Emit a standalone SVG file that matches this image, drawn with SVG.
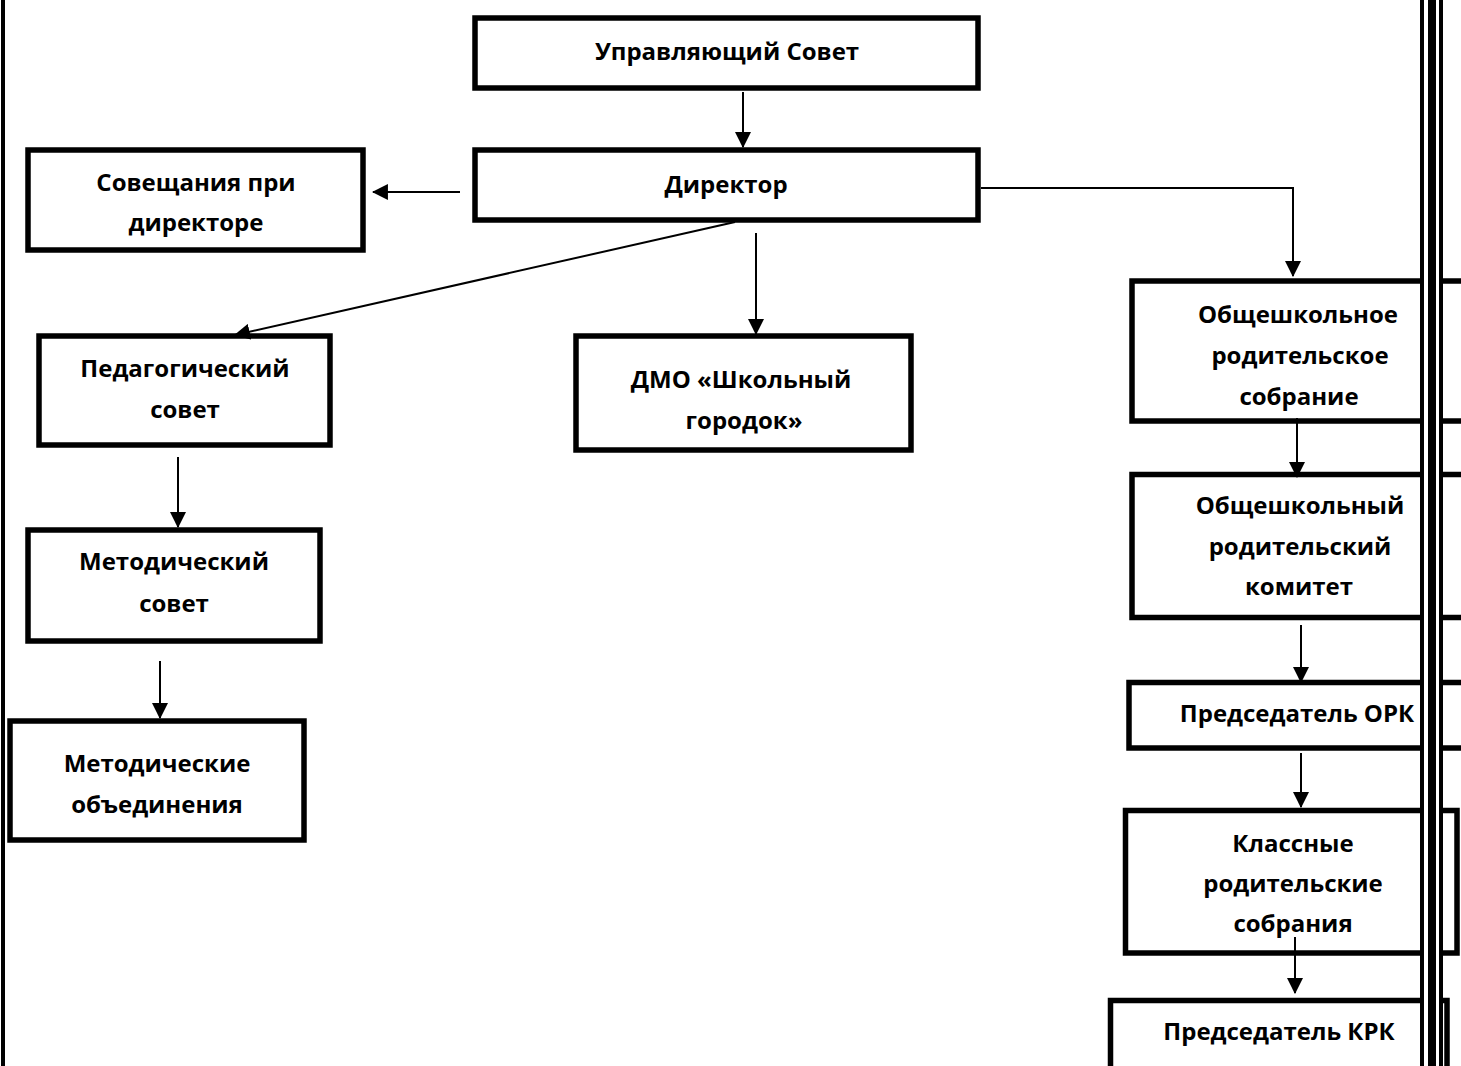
<svg xmlns="http://www.w3.org/2000/svg" width="1461" height="1066" viewBox="0 0 1461 1066">
<defs>
<style>
.box{fill:#fff;stroke:#000;stroke-width:5.5}
.t{font-family:"Open Sans","Liberation Sans",sans-serif;font-weight:bold;font-size:24px;fill:#000;text-anchor:middle}
.c{fill:none;stroke:#000;stroke-width:2}
</style>
<marker id="ah" markerUnits="userSpaceOnUse" markerWidth="16" markerHeight="16" viewBox="0 0 15 15" refX="14" refY="7.5" orient="auto">
<path d="M0,0 L15,7.5 L0,15 z" fill="#000"/>
</marker>
</defs>
<rect width="1461" height="1066" fill="#fff"/>
<rect x="1" y="0" width="4" height="1066" fill="#000"/>

<g id="upr-sovet"><rect class="box" x="475" y="18" width="503" height="70"/><text class="t" x="727" y="60">Управляющий Совет</text></g>
<g id="direktor"><rect class="box" x="475" y="150" width="503" height="70"/><text class="t" x="726" y="193">Директор</text></g>
<g id="soveshchaniya"><rect class="box" x="28" y="150" width="335" height="100"/><text class="t" x="196" y="191">Совещания при</text><text class="t" x="196" y="231">директоре</text></g>
<g id="pedsovet"><rect class="box" x="39" y="336" width="291" height="109"/><text class="t" x="185" y="377">Педагогический</text><text class="t" x="185" y="418">совет</text></g>
<g id="dmo"><rect class="box" x="576" y="336" width="335" height="114"/><text class="t" x="741" y="388">ДМО «Школьный</text><text class="t" x="744" y="429">городок»</text></g>
<g id="metodsovet"><rect class="box" x="28" y="530" width="292" height="111"/><text class="t" x="174" y="570">Методический</text><text class="t" x="174" y="612">совет</text></g>
<g id="metodob"><rect class="box" x="10" y="721" width="294" height="119"/><text class="t" x="157" y="772">Методические</text><text class="t" x="157" y="813">объединения</text></g>
<g id="obshch-sobranie"><rect class="box" x="1132" y="281" width="340" height="140"/><text class="t" x="1298" y="323">Общешкольное</text><text class="t" x="1300" y="364">родительское</text><text class="t" x="1299" y="405">собрание</text></g>
<g id="obshch-komitet"><rect class="box" x="1132" y="474.5" width="340" height="143"/><text class="t" x="1300" y="514">Общешкольный</text><text class="t" x="1300" y="555">родительский</text><text class="t" x="1299" y="595">комитет</text></g>
<g id="pred-ork"><rect class="box" x="1129" y="682.5" width="340" height="65.5"/><text class="t" x="1297" y="722">Председатель ОРК</text></g>
<g id="klassnye"><rect class="box" x="1125.5" y="810.5" width="331.5" height="142.5"/><text class="t" x="1293" y="852">Классные</text><text class="t" x="1293" y="892">родительские</text><text class="t" x="1293" y="932">собрания</text></g>
<g id="pred-krk"><rect class="box" x="1110.5" y="1000.5" width="336.5" height="100"/><text class="t" x="1279" y="1040">Председатель КРК</text></g>

<g id="connectors">
<path class="c" d="M743,92 V147" marker-end="url(#ah)"/>
<path class="c" d="M460,192 H373" marker-end="url(#ah)"/>
<path class="c" d="M735,222 L235,335" marker-end="url(#ah)"/>
<path class="c" d="M756,233 V334" marker-end="url(#ah)"/>
<path class="c" d="M981,188 H1293 V276" marker-end="url(#ah)"/>
<path class="c" d="M1297,418 V477" marker-end="url(#ah)"/>
<path class="c" d="M1301,625 V682" marker-end="url(#ah)"/>
<path class="c" d="M1301,753 V807" marker-end="url(#ah)"/>
<path class="c" d="M1295,937 V993" marker-end="url(#ah)"/>
<path class="c" d="M178,457 V527" marker-end="url(#ah)"/>
<path class="c" d="M160,661 V718" marker-end="url(#ah)"/>
</g>

<g id="rails">
<rect x="1424" y="0" width="15" height="1066" fill="#fff"/>
<rect x="1420" y="0" width="4" height="1066" fill="#000"/>
<rect x="1428" y="0" width="8" height="1066" fill="#000"/>
<rect x="1439" y="0" width="4" height="1066" fill="#000"/>
</g>
</svg>
